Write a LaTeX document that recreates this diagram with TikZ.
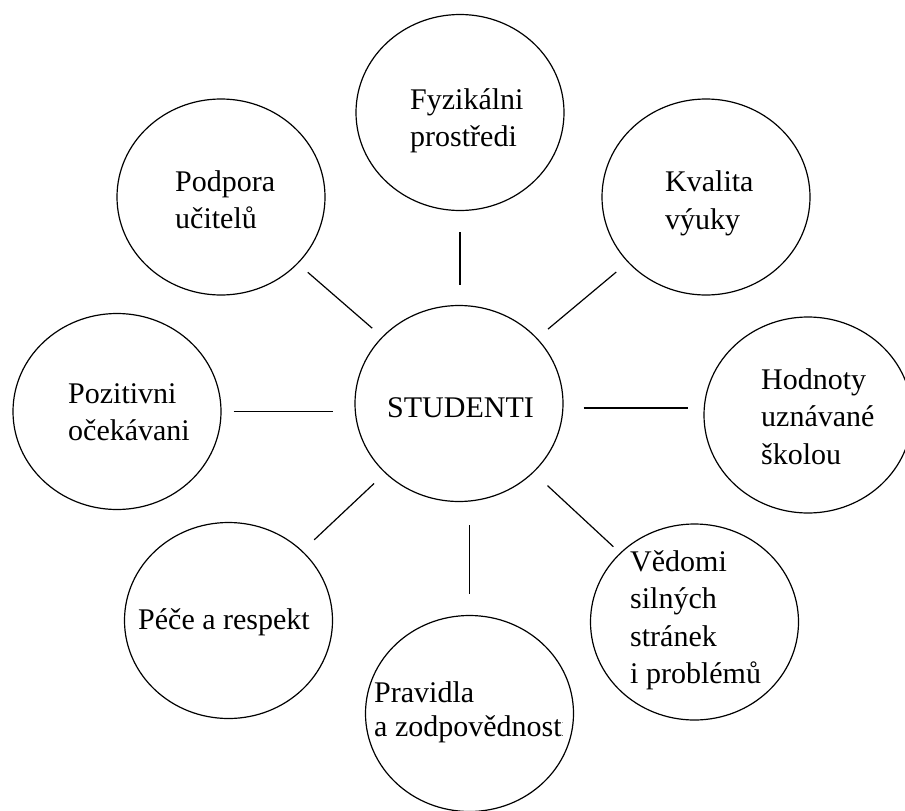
\documentclass[tikz,border=0pt]{standalone}
\usepackage{fontspec}
\setmainfont{Liberation Serif}
\usetikzlibrary{shapes.geometric,calc}
\begin{document}
\begin{tikzpicture}[x=1pt,y=-1pt,
  bubble/.style={draw=black, line width=1.2pt, ellipse,
    minimum width=208pt, minimum height=196pt, inner sep=0pt},
  % multi-line labels are placed by the baseline of their last line
  lbl/.style={anchor=base west, inner sep=0pt, align=left,
    font=\fontsize{30pt}{37.5pt}\selectfont},
  link/.style={draw=black, line width=1.2pt}]

% page
\fill[white] (0,0) rectangle (905,811);
\useasboundingbox (0,0) rectangle (905,811);

% bubbles
\node[bubble] (stud) at (459,403.5) {};
\node[bubble] (fyz)  at (460,112.5) {};
\node[bubble] (podp) at (221,197) {};
\node[bubble] (kval) at (706,197) {};
\node[bubble] (poz)  at (117,411.5) {};
\node[bubble] (hod)  at (808,415) {};
\node[bubble] (pece) at (228.5,620.5) {};
\node[bubble] (prav) at (469.5,713.5) {};
\node[bubble] (ved)  at (694.5,622) {};

% texts
\node[lbl] (t-stud) at (387,417)   {STUDENTI};
\node[lbl] (t-fyz)  at (410,146.5) {Fyzikálni\\prostředi};
\node[lbl] (t-podp) at (175,228.5) {Podpora\\učitelů};
\node[lbl] (t-kval) at (665,229)   {Kvalita\\výuky};
\node[lbl] (t-poz)  at (68,440.5)  {Pozitivni\\očekávani};
\node[lbl] (t-hod)  at (761,464)   {Hodnoty\\uznávané\\školou};
\node[lbl] (t-ved)  at (630,683.5) {Vědomi\\silných\\stránek\\i problémů};
\node[lbl] (t-pece) at (138,629)   {Péče a respekt};
\begin{scope}
  \clip (360,650) rectangle (562,770);
  \node[lbl, font=\fontsize{30pt}{34pt}\selectfont] (t-prav) at (374,736)
    {Pravidla\\a zodpovědnosti};
\end{scope}

% connectors
\draw[link, shorten <=21pt, shorten >=20pt] (fyz.south) -- (fyz.south |- stud.north);
\draw[link, shorten <=23pt, shorten >=21pt] (stud.south -| prav.north) -- (prav.north);
\draw[link, shorten <=12pt, shorten >=21pt] (poz.east) -- (poz.east -| stud.west);
\draw[link, shorten <=20pt, shorten >=15pt]
  ($(stud.east)+(0,4.5)$) -- ($(stud.east -| hod.west)+(0,4.5)$);
\draw[link, shorten <=13pt, shorten >=13pt] (stud) -- (podp);
\draw[link, shorten <=14pt, shorten >=15pt] (stud) -- (kval);
\draw[link, shorten <=15pt, shorten >=16pt] (stud) -- (pece);
\draw[link, shorten <=19pt, shorten >=9pt]  (stud) -- (ved);
\end{tikzpicture}
\end{document}
